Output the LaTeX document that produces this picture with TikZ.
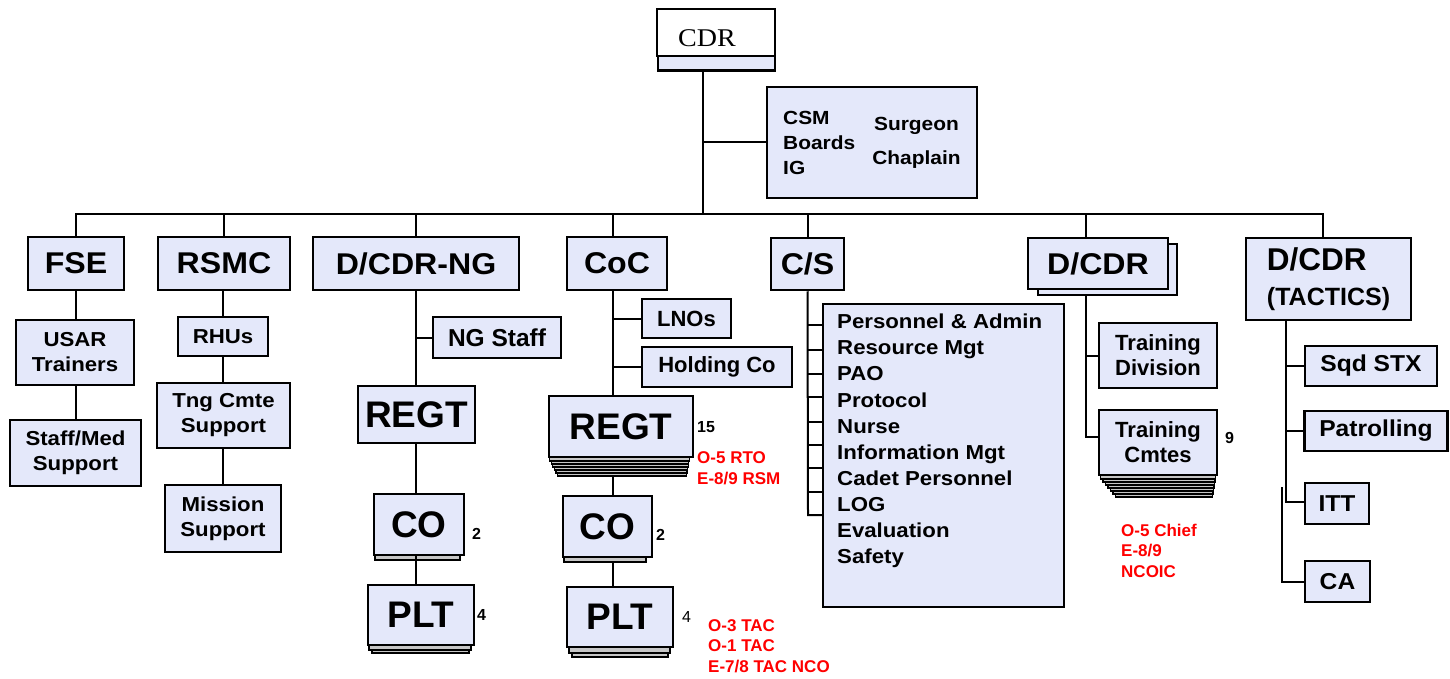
\documentclass[tikz,border=0pt]{standalone}
\usepackage{fontspec}
\setmainfont{Liberation Sans}
\newfontfamily\sA{Liberation Sans}[FakeStretch=1.1]
\newfontfamily\sB{Liberation Sans}[FakeStretch=1.07]
\newfontfamily\sC{Liberation Sans}
\newfontfamily\cdrfont{Liberation Serif}[FakeStretch=1.1]
\definecolor{lav}{RGB}{228,232,250}
\begin{document}
\begin{tikzpicture}[x=1pt,y=-1pt,
  box/.style={draw, line width=2.5pt, fill=lav, inner sep=0pt, align=center},
  lvl/.style={font=\sB\fontsize{30}{32}\selectfont\bfseries},
  unit/.style={font=\sC\fontsize{37}{39}\selectfont\bfseries},
  sub/.style={font=\sA\fontsize{20.2}{25}\selectfont\bfseries},
  subc/.style={font=\sC\fontsize{22}{25}\selectfont\bfseries},
  tact/.style={font=\sB\fontsize{23}{25}\selectfont\bfseries},
  conn/.style={line width=2pt},
  layer/.style={draw, line width=1.2pt, fill=gray!45},
  num/.style={font=\sC\fontsize{16}{18}\selectfont\bfseries, anchor=west, inner sep=0pt},
  note/.style={font=\sC\fontsize{17}{20.5}\selectfont\bfseries, text=red, anchor=west, align=left, inner sep=0pt},
  plain/.style={inner sep=0pt, align=left}]
\useasboundingbox (0,0) rectangle (1450,679);
% helper coordinates
\coordinate (busL) at (76,214);
\coordinate (busR) at (1323,214);
\coordinate (cdrx) at (703,0);
\coordinate (cocx) at (613,0);
\coordinate (dcx) at (1086,0);
\coordinate (tacx) at (1323,0);
\coordinate (tacv) at (1286,0);
\coordinate (cav) at (1282,487);
\coordinate (cregtb) at (613,476);
\coordinate (ccob) at (613,562);

% ---------- top ----------
\node[box, minimum width=117, minimum height=19] (cdrbase) at (716.5,61) {};
\node[draw, fill=white, line width=2.5pt, minimum width=118, minimum height=47, inner sep=0pt,
      text height=29pt, text depth=0pt,
      font=\cdrfont\fontsize{25.5}{28}\selectfont] (cdr) at (716,32.5) {CDR\kern18pt};
\node[box, minimum width=210, minimum height=111] (csm) at (872,142.5) {};
\node[plain, anchor=west, font=\sA\fontsize{19}{25}\selectfont\bfseries] (csmtxt) at (783,143) {CSM\\Boards\\IG};
\node[inner sep=0pt, align=center, font=\sA\fontsize{19}{34}\selectfont\bfseries] (surg) at (916.5,143) {Surgeon\\Chaplain};

% ---------- level 2 ----------
\node[box, lvl, minimum width=96, minimum height=53] (fse) at (76,263.5) {FSE};
\node[box, lvl, minimum width=132, minimum height=53] (rsmc) at (224,263.5) {RSMC};
\node[box, lvl, minimum width=206, minimum height=53] (dng) at (416,263.5) {D/CDR-NG};
\node[box, lvl, minimum width=100, minimum height=53] (coc) at (617,263.5) {CoC};
\node[box, lvl, minimum width=73, minimum height=52] (cs) at (807.5,264) {C/S};
\node[box, minimum width=139, minimum height=51] (dcdrsh) at (1107.5,269.5) {};
\node[box, lvl, minimum width=140, minimum height=51] (dcdr) at (1098,263.5) {D/CDR};
\node[box, minimum width=165, minimum height=82, align=left, font=\sC\fontsize{31.5}{35}\selectfont\bfseries] (tac) at (1328.5,279)
  {D/CDR\\{\fontsize{25}{35}\selectfont (TACTICS)}};

% ---------- FSE branch ----------
\node[box, sub, minimum width=118, minimum height=65] (usar) at (75,352.5) {USAR\\Trainers};
\node[box, sub, minimum width=131, minimum height=66] (staff) at (75.5,453) {Staff/Med\\Support};

% ---------- RSMC branch ----------
\node[box, sub, minimum width=90, minimum height=39] (rhu) at (223,336.5) {RHUs};
\node[box, sub, minimum width=133, minimum height=65] (tng) at (223.5,415.5) {Tng Cmte\\Support};
\node[box, sub, minimum width=116, minimum height=67] (mis) at (223,518.5) {Mission\\Support};

% ---------- D/CDR-NG branch ----------
\node[box, font=\sC\fontsize{24.5}{26}\selectfont\bfseries, minimum width=128, minimum height=41] (ngs) at (497,337.5) {NG Staff};
\node[box, unit, minimum width=117, minimum height=57] (nregt) at (416.5,414.5) {REGT};
\draw[layer] (375,499) rectangle (460,560);
\node[box, unit, minimum width=90, minimum height=61] (nco) at (419,524.5) {CO};
\draw[layer] (372,591) rectangle (469,653);
\draw[layer] (369,588) rectangle (471,650);
\node[box, unit, minimum width=106, minimum height=60] (nplt) at (421,615) {PLT};
\node[num] (n2a) at (472,534) {2};
\node[num] (n4a) at (477,615) {4};

% ---------- CoC branch ----------
\node[box, subc, minimum width=89, minimum height=39] (lno) at (686.5,318.5) {LNOs};
\node[box, subc, minimum width=150, minimum height=40] (hold) at (717,367) {Holding Co};
\foreach \i in {6,5,...,1}
  \draw[layer] ({548+1.6*\i},{395+3*\i}) rectangle ({690-0.6*\i},{458+3*\i});
\node[box, unit, minimum width=144, minimum height=61] (cregt) at (621,426.5) {REGT};
\node[num] (n15) at (697,427) {15};
\node[note] (rto) at (697,468) {O-5 RTO\\E-8/9 RSM};
\draw[layer] (564,500) rectangle (646,562);
\node[box, unit, minimum width=89, minimum height=61] (cco) at (607.5,526.5) {CO};
\draw[layer] (572,594) rectangle (668,657);
\draw[layer] (569,590) rectangle (670,653);
\node[box, unit, minimum width=106, minimum height=60] (cplt) at (620,617) {PLT};
\node[num] (n2b) at (656,535) {2};
\node[num, font=\sC\fontsize{16}{18}\selectfont] (n4b) at (682,617) {4};
\node[note] (tac3) at (708,646) {O-3 TAC\\O-1 TAC\\E-7/8 TAC NCO};

% ---------- C/S branch ----------
\node[box, minimum width=241, minimum height=303] (cslist) at (943.5,455.5) {};
\node[plain, anchor=west, font=\sA\fontsize{20.2}{26.1}\selectfont\bfseries] (cstxt) at (837,441)
  {Personnel \& Admin\\Resource Mgt\\PAO\\Protocol\\Nurse\\Information Mgt\\Cadet Personnel\\LOG\\Evaluation\\Safety};

% ---------- D/CDR branch ----------
\node[box, subc, minimum width=118, minimum height=65] (tdiv) at (1158,355.5) {Training\\Division};
\foreach \i in {7,6,...,1}
  \draw[layer] ({1098+2.5*\i},{409+3*\i}) rectangle ({1216-0.5*\i},{476+3*\i});
\node[box, subc, minimum width=118, minimum height=65] (tcm) at (1158,442.5) {Training\\Cmtes};
\node[num] (n9) at (1225,438) {9};
\node[note] (chief) at (1121,550.5) {O-5 Chief\\E-8/9\\NCOIC};

% ---------- TACTICS branch ----------
\node[box, tact, minimum width=132, minimum height=40] (sqd) at (1371,366) {Sqd STX};
\node[box, tact, minimum width=143, minimum height=40] (pat) at (1376,431) {Patrolling};
\node[box, tact, minimum width=64, minimum height=41] (itt) at (1337,503.5) {ITT};
\node[box, tact, minimum width=65, minimum height=41] (ca) at (1337.5,581.5) {CA};

% ---------- connectors ----------
\draw[conn] (cdrx |- cdrbase.south) -- (cdrx |- busL);
\draw[conn] (cdrx |- csm.west) -- (csm.west);
\draw[conn] (fse.north) -- (busL) -- (busR) -- (tacx |- tac.north);
\draw[conn] (rsmc.north) -- (rsmc.north |- busL);
\draw[conn] (dng.north) -- (dng.north |- busL);
\draw[conn] (cocx |- coc.north) -- (cocx |- busL);
\draw[conn] (cs.north) -- (cs.north |- busL);
\draw[conn] (dcx |- dcdr.north) -- (dcx |- busL);

\draw[conn] (fse.south) -- (fse.south |- usar.north);
\draw[conn] (fse.south |- usar.south) -- (fse.south |- staff.north);

\draw[conn] (rhu.north |- rsmc.south) -- (rhu.north);
\draw[conn] (rhu.south) -- (rhu.south |- tng.north);
\draw[conn] (rhu.south |- tng.south) -- (rhu.south |- mis.north);

\draw[conn] (dng.south) -- (dng.south |- nregt.north);
\draw[conn] (dng.south |- ngs.west) -- (ngs.west);
\draw[conn] (dng.south |- nregt.south) -- (dng.south |- nco.north);
\draw[conn] (dng.south |- nco.south) -- (dng.south |- nplt.north);

\draw[conn] (cocx |- coc.south) -- (cocx |- cregt.north);
\draw[conn] (cocx |- lno.west) -- (lno.west);
\draw[conn] (cocx |- hold.west) -- (hold.west);
\draw[conn] (cregtb) -- (cocx |- cco.north);
\draw[conn] (ccob) -- (cocx |- cplt.north);

\coordinate (csb) at (808,515);
\draw[conn] (cs.south) -- (csb) -- (csb -| cslist.west);
\foreach \y [count=\k] in {325,350,374,397,422,445,468,492} {
  \coordinate (rung\k) at (808,\y);
  \draw[conn] (rung\k) -- (rung\k -| cslist.west);
}

\coordinate (dcb) at (1086,437);
\draw[conn] (dcx |- dcdrsh.south) -- (dcb) -- (dcb -| tcm.west);
\draw[conn] (dcx |- tdiv.west) -- (tdiv.west);

\coordinate (tacb) at (1286,502);
\draw[conn] (tacv |- tac.south) -- (tacb) -- (tacb -| itt.west);
\draw[conn] (tacv |- sqd.west) -- (sqd.west);
\draw[conn] (tacv |- pat.west) -- (pat.west);
\draw[conn] (cav) -- (cav |- ca.west) -- (ca.west);
\end{tikzpicture}
\end{document}
